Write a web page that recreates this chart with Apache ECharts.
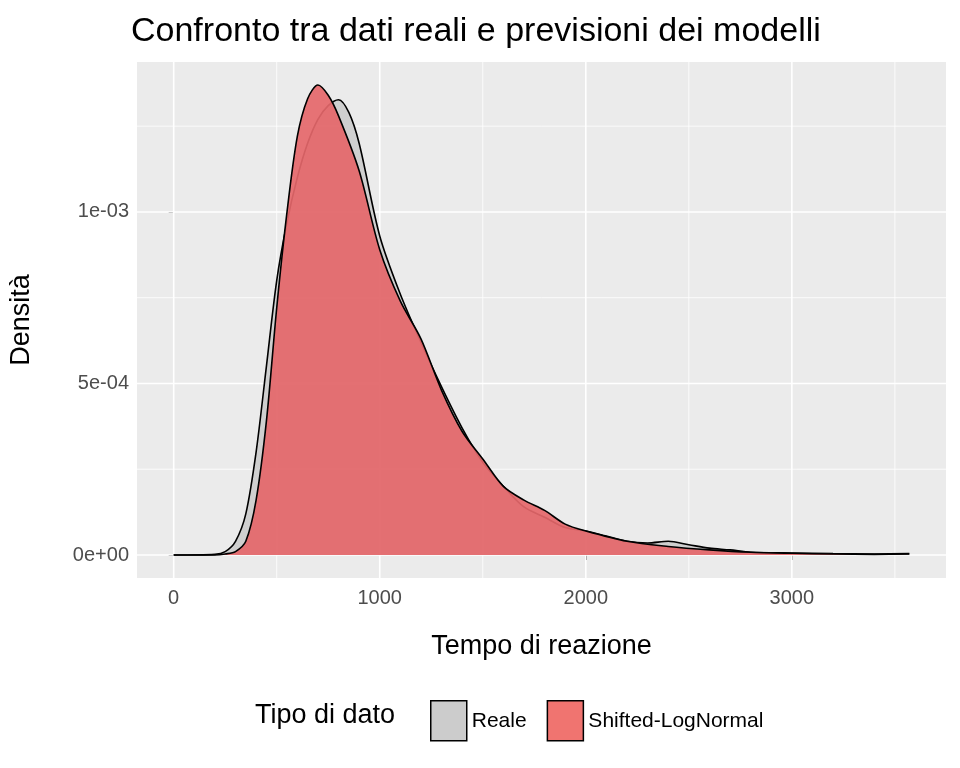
<!DOCTYPE html>
<html><head><meta charset="utf-8">
<script src="https://cdn.jsdelivr.net/npm/echarts@6/dist/echarts.min.js"></script>
<style>html,body{margin:0;padding:0;background:#fff}#c{width:960px;height:768px}</style>
</head><body><div id="c"></div>
<script>
const xReale = [0,200,250,300,350,400,450,500,550,600,650,700,750,800,850,900,1000,1100,1200,1300,1400,1500,1600,1700,1800,1900,2000,2100,2200,2300,2400,2500,2600,2700,2800,3000,3200,3400,3570];
const yReale = [0,0.000002,0.00001,0.00004,0.00012,0.0003,0.00055,0.0008,0.00097,0.0011,0.0012,0.00127,0.00131,0.001327,0.00129,0.0012,0.00093,0.00076,0.00062,0.00049,0.00037,0.00027,0.0002,0.00014,0.00011,0.00008,0.00007,0.000055,0.00004,0.000035,0.00004,0.00003,0.00002,0.000015,0.000008,0.000006,0.000004,0.000003,0.000004];
const xSLN = [0,200,250,300,350,400,450,500,550,600,650,700,750,800,900,1000,1100,1200,1300,1400,1500,1600,1700,1800,1900,2000,2200,2400,2600,2800,3000,3200,3400,3570];
const ySLN = [0,0,0.000003,0.00001,0.00004,0.00016,0.00039,0.00072,0.001,0.00122,0.00133,0.00137,0.00134,0.00128,0.00112,0.00089,0.00074,0.00063,0.00048,0.00036,0.00028,0.0002,0.00016,0.00013,0.00009,0.00007,0.00004,0.000025,0.000015,0.000008,0.000005,0.000003,0.000002,0.000003];
const xMajor = [0,1000,2000,3000];
const xMinor = [500,1500,2500,3500];
const yMajor = [0,0.0005,0.001];
const yMinor = [0.00025,0.00075,0.00125];
const yLabels = {0:'0e+00',0.0005:'5e-04',0.001:'1e-03'};
const XMIN=-178, XMAX=3748, YMIN=-0.000067, YMAX=0.001437;

const gridSeries = [];
function gl(data,w){gridSeries.push({type:'line',data:data,silent:true,z:0,showSymbol:false,symbol:'none',lineStyle:{color:'#fff',width:w},tooltip:{show:false}});}
xMajor.forEach(v=>gl([[v,YMIN],[v,YMAX]],1.6));
xMinor.forEach(v=>gl([[v,YMIN],[v,YMAX]],0.8));
yMajor.forEach(v=>gl([[XMIN,v],[XMAX,v]],1.6));
yMinor.forEach(v=>gl([[XMIN,v],[XMAX,v]],0.8));

const chart = echarts.init(document.getElementById('c'));
const F='Liberation Sans, Arial';
const lab = {color:'#4d4d4d',fontSize:20,fontFamily:F};
chart.setOption({
  animation:false,
  textStyle:{fontFamily:F},
  title:{text:'Confronto tra dati reali e previsioni dei modelli',left:126,top:10,textStyle:{fontSize:34,fontWeight:'normal',color:'#000',fontFamily:F}},
  grid:{left:128,right:14,top:62,bottom:190,show:true,backgroundColor:'#EBEBEB',borderWidth:0},
  xAxis:{type:'value',min:XMIN,max:XMAX,name:'Tempo di reazione',nameLocation:'middle',nameGap:55,
    nameTextStyle:{fontSize:27,color:'#000'},splitLine:{show:false},axisLine:{show:false},
    axisTick:{show:true,customValues:xMajor,length:5,lineStyle:{color:'#333'}},
    axisLabel:Object.assign({customValues:xMajor,margin:10,formatter:v=>String(v)},lab)},
  yAxis:{type:'value',min:YMIN,max:YMAX,name:'Densità',nameLocation:'middle',nameGap:102,
    nameTextStyle:{fontSize:27,color:'#000'},splitLine:{show:false},axisLine:{show:false},
    axisTick:{show:true,customValues:yMajor,length:5,lineStyle:{color:'#333'}},
    axisLabel:Object.assign({customValues:yMajor,margin:8,formatter:v=>yLabels[v]!==undefined?yLabels[v]:''},lab)},
  legend:{left:425,top:695,itemWidth:36,itemHeight:40,itemGap:20,icon:'rect',
    textStyle:{fontSize:21,color:'#000',fontFamily:F},
    data:[{name:'Reale',itemStyle:{color:'#cccccc',borderColor:'#000',borderWidth:1.5}},
          {name:'Shifted-LogNormal',itemStyle:{color:'#F07470',borderColor:'#000',borderWidth:1.5}}]},
  graphic:[{type:'text',left:255,top:702,style:{text:'Tipo di dato',fontSize:27,fill:'#000',fontFamily:F}}],
  series:gridSeries.concat([
    {type:'line',name:'Reale',data:xReale.map((x,i)=>[x,yReale[i]]),smooth:0.3,showSymbol:false,z:2,
      lineStyle:{color:'#000',width:1.6},itemStyle:{color:'#cccccc'},areaStyle:{color:'#cccccc',opacity:0.9}},
    {type:'line',name:'Shifted-LogNormal',data:xSLN.map((x,i)=>[x,ySLN[i]]),smooth:0.3,showSymbol:false,z:3,
      lineStyle:{color:'#000',width:1.6},itemStyle:{color:'#F07470'},areaStyle:{color:'#E5676A',opacity:0.92}}
  ])
});
</script></body></html>
